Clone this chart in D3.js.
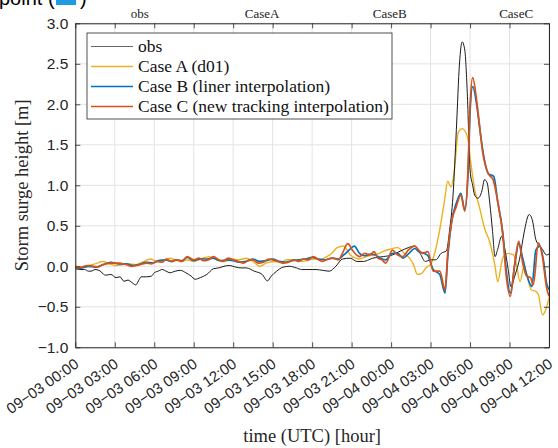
<!doctype html>
<html>
  <head>
    <meta charset="utf-8">
    <script src="https://d3js.org/d3.v7.min.js"></script>
    <style>
      body { margin: 0; background: #fff; }
      svg { display: block; }
    </style>
  </head>
  <body>
    <script>
      // ---------- data (hours since 09-03 00:00 UTC, surge in m) ----------
      var tickHours  = [0, 3, 6, 9, 12, 15, 18, 21, 24, 27, 30, 33, 36];
      var tickLabels = ["09\u221203 00:00", "09\u221203 03:00", "09\u221203 06:00", "09\u221203 09:00",
                        "09\u221203 12:00", "09\u221203 15:00", "09\u221203 18:00", "09\u221203 21:00",
                        "09\u221204 00:00", "09\u221204 03:00", "09\u221204 06:00", "09\u221204 09:00",
                        "09\u221204 12:00"];
      var yTicks     = [-1, -0.5, 0, 0.5, 1, 1.5, 2, 2.5, 3];
      var topLabels  = ["obs", "CaseA", "CaseB", "CaseC"];
      var topLabelHours = [4.9, 14.2, 23.9, 33.5];

      var obs = [
        [0,-0.02],[0.3,-0.04],[0.7,-0.04],[1.0,-0.06],[1.2,-0.06],[1.5,-0.04],[1.8,-0.05],[2.1,-0.09],
        [2.3,-0.11],[2.7,-0.10],[3.1,-0.14],[3.4,-0.13],[3.7,-0.185],[4.0,-0.17],[4.3,-0.20],[4.6,-0.23],
        [4.8,-0.18],[5.0,-0.13],[5.4,-0.13],[5.8,-0.12],[6.0,-0.08],[6.3,-0.06],[6.6,-0.04],[6.9,-0.06],
        [7.2,-0.08],[7.6,-0.06],[8.0,-0.05],[8.4,-0.08],[8.8,-0.12],[9.1,-0.16],[9.5,-0.14],[10.0,-0.10],
        [10.5,-0.03],[10.9,-0.02],[11.3,0.0],[11.7,0.01],[12.2,-0.01],[12.6,-0.02],[13.0,-0.02],[13.6,-0.06],
        [14.2,-0.10],[14.6,-0.18],[14.9,-0.12],[15.3,-0.06],[15.8,-0.01],[16.3,0.0],[16.8,-0.02],[17.2,-0.04],
        [17.6,-0.04],[18.0,-0.04],[18.3,-0.04],[18.8,-0.05],[19.3,-0.06],[19.8,0.0],[20.3,0.09],[20.9,0.10],
        [21.4,0.06],[21.9,0.06],[22.3,0.08],[22.6,0.10],[23.0,0.11],[23.4,0.12],[24.1,0.14],[24.6,0.18],
        [25.0,0.21],[25.3,0.23],[25.8,0.25],[26.2,0.16],[26.6,0.06],[27.0,0.08],[27.4,0.08],[27.8,0.16],
        [28.2,0.19],[28.45,0.45],[28.7,0.86],[28.96,1.69],[29.2,2.51],[29.4,2.77],[29.6,2.67],[29.8,2.1],
        [30.0,1.19],[30.2,1.0],[30.35,0.88],[30.6,0.84],[30.9,0.93],[31.1,1.07],[31.3,1.03],[31.5,0.78],
        [31.7,0.45],[31.9,0.12],[32.1,0.21],[32.4,0.37],[32.65,0.21],[32.9,-0.04],[33.1,-0.25],[33.4,-0.12],
        [33.8,0.12],[34.1,0.41],[34.5,0.64],[34.75,0.56],[35.0,0.33],[35.3,0.25],[35.5,0.21],[35.8,0.14],
        [36.0,0.15]
      ];

      var caseA = [
        [0,0.0],[0.5,-0.01],[1.0,0.01],[1.5,0.03],[2.1,0.06],[2.6,0.03],[3.1,0.01],[3.6,0.02],[4.1,0.03],
        [4.6,0.02],[5.1,0.05],[5.7,0.09],[6.2,0.06],[6.7,0.07],[7.2,0.10],[7.7,0.07],[8.1,0.06],[8.5,0.08],
        [9.0,0.06],[9.5,0.09],[10.2,0.12],[10.6,0.09],[10.9,0.07],[11.4,0.06],[11.9,0.09],[12.4,0.08],
        [13.0,0.10],[13.5,0.06],[14.0,0.0],[14.5,0.04],[15.0,0.06],[15.6,0.05],[16.1,0.08],[16.6,0.08],
        [17.2,0.06],[17.6,0.07],[18.1,0.09],[18.6,0.08],[19.0,0.11],[19.5,0.16],[19.9,0.23],[20.4,0.25],
        [20.9,0.14],[21.3,0.10],[21.6,0.09],[22.1,0.12],[22.6,0.14],[23.1,0.16],[23.5,0.19],[23.9,0.21],
        [24.5,0.23],[25.0,0.16],[25.4,0.10],[25.7,0.02],[26.0,-0.10],[26.3,-0.09],[26.7,-0.01],[27.0,0.02],
        [27.2,0.10],[27.6,0.37],[28.07,0.82],[28.3,1.05],[28.55,0.98],[28.8,1.17],[29.1,1.65],[29.4,1.70],
        [29.8,1.60],[30.0,1.35],[30.35,0.95],[30.7,0.74],[31.1,0.47],[31.5,0.30],[31.9,0.0],[32.1,-0.19],
        [32.5,0.11],[32.9,0.16],[33.3,0.14],[33.5,0.04],[33.8,-0.19],[34.1,0.0],[34.3,-0.1],[34.65,-0.29],
        [35.0,-0.31],[35.2,-0.35],[35.5,-0.60],[35.7,-0.56],[36.0,-0.39]
      ];

      var caseB = [
        [0,-0.03],[0.5,-0.02],[1.0,0.0],[1.5,-0.01],[2.1,0.02],[2.7,0.05],[3.3,0.03],[3.9,0.03],[4.4,0.01],
        [4.8,0.02],[5.4,0.05],[5.9,0.04],[6.3,0.07],[6.9,0.08],[7.3,0.06],[7.7,0.08],[8.1,0.07],[8.5,0.11],
        [9.0,0.07],[9.5,0.09],[10.0,0.09],[10.5,0.10],[11.0,0.07],[11.5,0.08],[12.0,0.07],[12.5,0.05],
        [13.0,0.06],[13.5,0.09],[14.0,0.06],[14.5,0.07],[15.0,0.09],[15.5,0.06],[16.0,0.05],[16.5,0.07],
        [17.0,0.08],[17.5,0.09],[18.0,0.11],[18.5,0.09],[19.0,0.08],[19.5,0.10],[20.0,0.09],[20.4,0.14],
        [20.8,0.20],[21.2,0.25],[21.6,0.16],[22.0,0.13],[22.4,0.15],[22.8,0.14],[23.2,0.10],[23.6,0.08],
        [24.1,0.16],[24.5,0.16],[24.9,0.10],[25.3,0.15],[25.8,0.22],[26.1,0.18],[26.5,0.16],[26.8,0.13],
        [27.2,-0.04],[27.7,-0.10],[28.1,-0.33],[28.3,0.10],[28.6,0.55],[28.96,0.78],[29.3,0.90],[29.6,0.70],
        [29.85,1.15],[30.0,1.90],[30.2,2.22],[30.5,2.00],[30.7,1.75],[30.95,1.45],[31.4,1.14],[31.8,1.11],
        [32.1,0.80],[32.5,0.40],[32.75,-0.05],[33.06,-0.33],[33.4,0.02],[33.7,0.28],[34.0,0.10],[34.3,-0.10],
        [34.7,-0.25],[35.0,0.20],[35.3,0.25],[35.6,0.05],[35.8,-0.20],[36.0,-0.29]
      ];

      var caseC = [
        [0,-0.02],[0.5,-0.01],[0.9,0.01],[1.4,0.0],[1.7,-0.01],[2.1,0.02],[2.7,0.04],[3.3,0.04],[3.9,0.02],
        [4.3,0.0],[4.7,0.01],[5.1,0.03],[5.4,0.04],[5.8,0.03],[6.2,0.06],[6.6,0.05],[6.9,0.09],[7.3,0.06],
        [7.7,0.08],[8.1,0.06],[8.5,0.12],[9.0,0.08],[9.4,0.10],[9.7,0.07],[10.1,0.08],[10.5,0.12],[10.9,0.08],
        [11.2,0.06],[11.6,0.10],[12.0,0.08],[12.4,0.06],[12.8,0.04],[13.1,0.07],[13.5,0.08],[13.9,0.04],
        [14.3,0.05],[14.7,0.09],[15.0,0.08],[15.4,0.06],[15.8,0.04],[16.2,0.05],[16.6,0.08],[17.0,0.06],
        [17.3,0.09],[17.7,0.08],[18.1,0.12],[18.5,0.08],[18.8,0.06],[19.2,0.09],[19.6,0.10],[20.0,0.08],
        [20.3,0.16],[20.7,0.28],[21.1,0.19],[21.6,0.12],[22.0,0.16],[22.4,0.14],[22.7,0.18],[23.0,0.10],
        [23.3,0.08],[23.6,0.04],[24.1,0.20],[24.5,0.14],[24.9,0.12],[25.3,0.20],[25.8,0.25],[26.1,0.20],
        [26.4,0.16],[26.8,0.18],[27.2,-0.06],[27.7,-0.06],[28.1,-0.29],[28.3,0.16],[28.6,0.55],[28.96,0.74],
        [29.3,0.88],[29.6,0.68],[29.85,1.23],[30.0,1.98],[30.2,2.33],[30.5,2.05],[30.7,1.77],[30.95,1.42],
        [31.4,1.14],[31.75,1.07],[32.1,0.80],[32.5,0.37],[32.75,-0.12],[33.06,-0.37],[33.4,0.04],[33.7,0.31],
        [34.0,0.04],[34.3,-0.12],[34.6,-0.14],[34.8,-0.23],[35.2,0.29],[35.5,0.12],[35.8,-0.25],[36.0,-0.37]
      ];

      var seriesNames  = ["obs", "Case A (d01)", "Case B (liner interpolation)", "Case C (new tracking interpolation)"];
      var seriesColors = ["#1a1a1a", "#EDB120", "#0072BD", "#D95319"];
      var seriesWidths = [1, 1.4, 1.7, 1.7];
      var seriesData   = [obs, caseA, caseB, caseC];

      // ---------- layout ----------
      var width = 558, height = 448;
      var plotL = 75.3, plotR = 549, plotT = 23.3, plotB = 347.3;
      var serif = "'Liberation Serif','Times New Roman',serif";
      var sans  = "'Liberation Sans',Arial,Helvetica,sans-serif";

      var svg = d3.select("body").append("svg")
        .attr("width", width)
        .attr("height", height);

      var x = d3.scaleLinear().domain([0, 36]).range([plotL, plotR]);
      var y = d3.scaleLinear().domain([-1, 3]).range([plotB, plotT]);

      // title fragment at the top (cut off in the original)
      svg.append("text")
        .attr("x", -1).attr("y", 5)
        .style("font-family", sans).style("font-size", "20px").style("fill", "#000")
        .text("point (");
      svg.append("rect")
        .attr("x", 56).attr("y", -12).attr("width", 20).attr("height", 17)
        .attr("fill", "#1e9be3");
      svg.append("text")
        .attr("x", 80).attr("y", 5)
        .style("font-family", sans).style("font-size", "20px").style("fill", "#000")
        .text(")");

      // grid
      var grid = svg.append("g").attr("class", "grid");
      grid.selectAll(".vx").data(tickHours).enter().append("line")
        .attr("x1", d => x(d)).attr("x2", d => x(d))
        .attr("y1", plotT).attr("y2", plotB)
        .attr("stroke", "#e3e3e3").attr("stroke-width", 1);
      grid.selectAll(".hy").data(yTicks).enter().append("line")
        .attr("x1", plotL).attr("x2", plotR)
        .attr("y1", d => y(d)).attr("y2", d => y(d))
        .attr("stroke", "#e3e3e3").attr("stroke-width", 1);

      // lines
      svg.append("clipPath").attr("id", "plotClip")
        .append("rect").attr("x", plotL).attr("y", plotT)
        .attr("width", plotR - plotL).attr("height", plotB - plotT);

      var line = d3.line().x(d => x(d[0])).y(d => y(d[1])).curve(d3.curveMonotoneX);
      var lines = svg.append("g").attr("clip-path", "url(#plotClip)");
      [1, 0, 2, 3].forEach(function(i) {
        lines.append("path")
          .datum(seriesData[i])
          .attr("d", line)
          .attr("fill", "none")
          .attr("stroke", seriesColors[i])
          .attr("stroke-width", seriesWidths[i])
          .attr("stroke-linejoin", "round");
      });

      // axes (ticks inside, box all round)
      var axisColor = "#262626";
      var xAxis = svg.append("g")
        .attr("transform", "translate(0," + plotB + ")")
        .call(d3.axisBottom(x).tickValues(tickHours).tickSize(-5).tickSizeOuter(0)
                .tickFormat((d, i) => tickLabels[i]));
      xAxis.selectAll("text")
        .attr("x", 0).attr("y", 0).attr("dy", 0)
        .attr("text-anchor", "end")
        .attr("transform", "translate(4,19) rotate(-35)")
        .style("font-family", sans).style("font-size", "15px").style("fill", "#262626");

      svg.append("g")
        .attr("transform", "translate(0," + plotT + ")")
        .call(d3.axisTop(x).tickValues(tickHours).tickSize(-5).tickSizeOuter(0).tickFormat(""));

      var yAxis = svg.append("g")
        .attr("transform", "translate(" + plotL + ",0)")
        .call(d3.axisLeft(y).tickValues(yTicks).tickSize(-5).tickSizeOuter(0).tickPadding(7)
                .tickFormat(d3.format(".1f")));
      yAxis.selectAll("text")
        .style("font-family", sans).style("font-size", "15.5px").style("fill", "#262626");

      svg.append("g")
        .attr("transform", "translate(" + plotR + ",0)")
        .call(d3.axisRight(y).tickValues(yTicks).tickSize(-5).tickSizeOuter(0).tickFormat(""));

      svg.selectAll(".domain").attr("stroke", axisColor).attr("stroke-width", 1);
      svg.selectAll(".tick line").attr("stroke", axisColor).attr("stroke-width", 0.8);

      // labels above the plot
      svg.append("g").selectAll("text").data(topLabels).enter().append("text")
        .attr("x", (d, i) => x(topLabelHours[i]))
        .attr("y", 18)
        .attr("text-anchor", "middle")
        .style("font-family", serif).style("font-size", "13px").style("fill", "#222")
        .text(d => d);

      // axis titles
      svg.append("text")
        .attr("x", (plotL + plotR) / 2).attr("y", 442)
        .attr("text-anchor", "middle")
        .style("font-family", serif).style("font-size", "18.5px").style("fill", "#262626")
        .text("time (UTC) [hour]");

      svg.append("text")
        .attr("transform", "translate(28," + (plotT + plotB) / 2 + ") rotate(-90)")
        .attr("text-anchor", "middle")
        .style("font-family", serif).style("font-size", "18.5px").style("fill", "#262626")
        .text("Storm surge height [m]");

      // legend
      var legend = svg.append("g").attr("transform", "translate(87,33)");
      legend.append("rect")
        .attr("width", 305).attr("height", 86)
        .attr("fill", "#fff").attr("stroke", axisColor).attr("stroke-width", 0.8);
      var items = legend.selectAll("g.item").data(seriesNames).enter().append("g")
        .attr("transform", (d, i) => "translate(0," + (13.5 + i * 20) + ")");
      items.append("line")
        .attr("x1", 4).attr("x2", 46)
        .attr("stroke", (d, i) => i === 0 ? "#666" : seriesColors[i])
        .attr("stroke-width", (d, i) => i === 0 ? 1.2 : 1.5);
      items.append("text")
        .attr("x", 51).attr("dy", "0.33em")
        .style("font-family", serif).style("font-size", "17.5px").style("fill", "#111")
        .text(d => d);
    </script>
  </body>
</html>
